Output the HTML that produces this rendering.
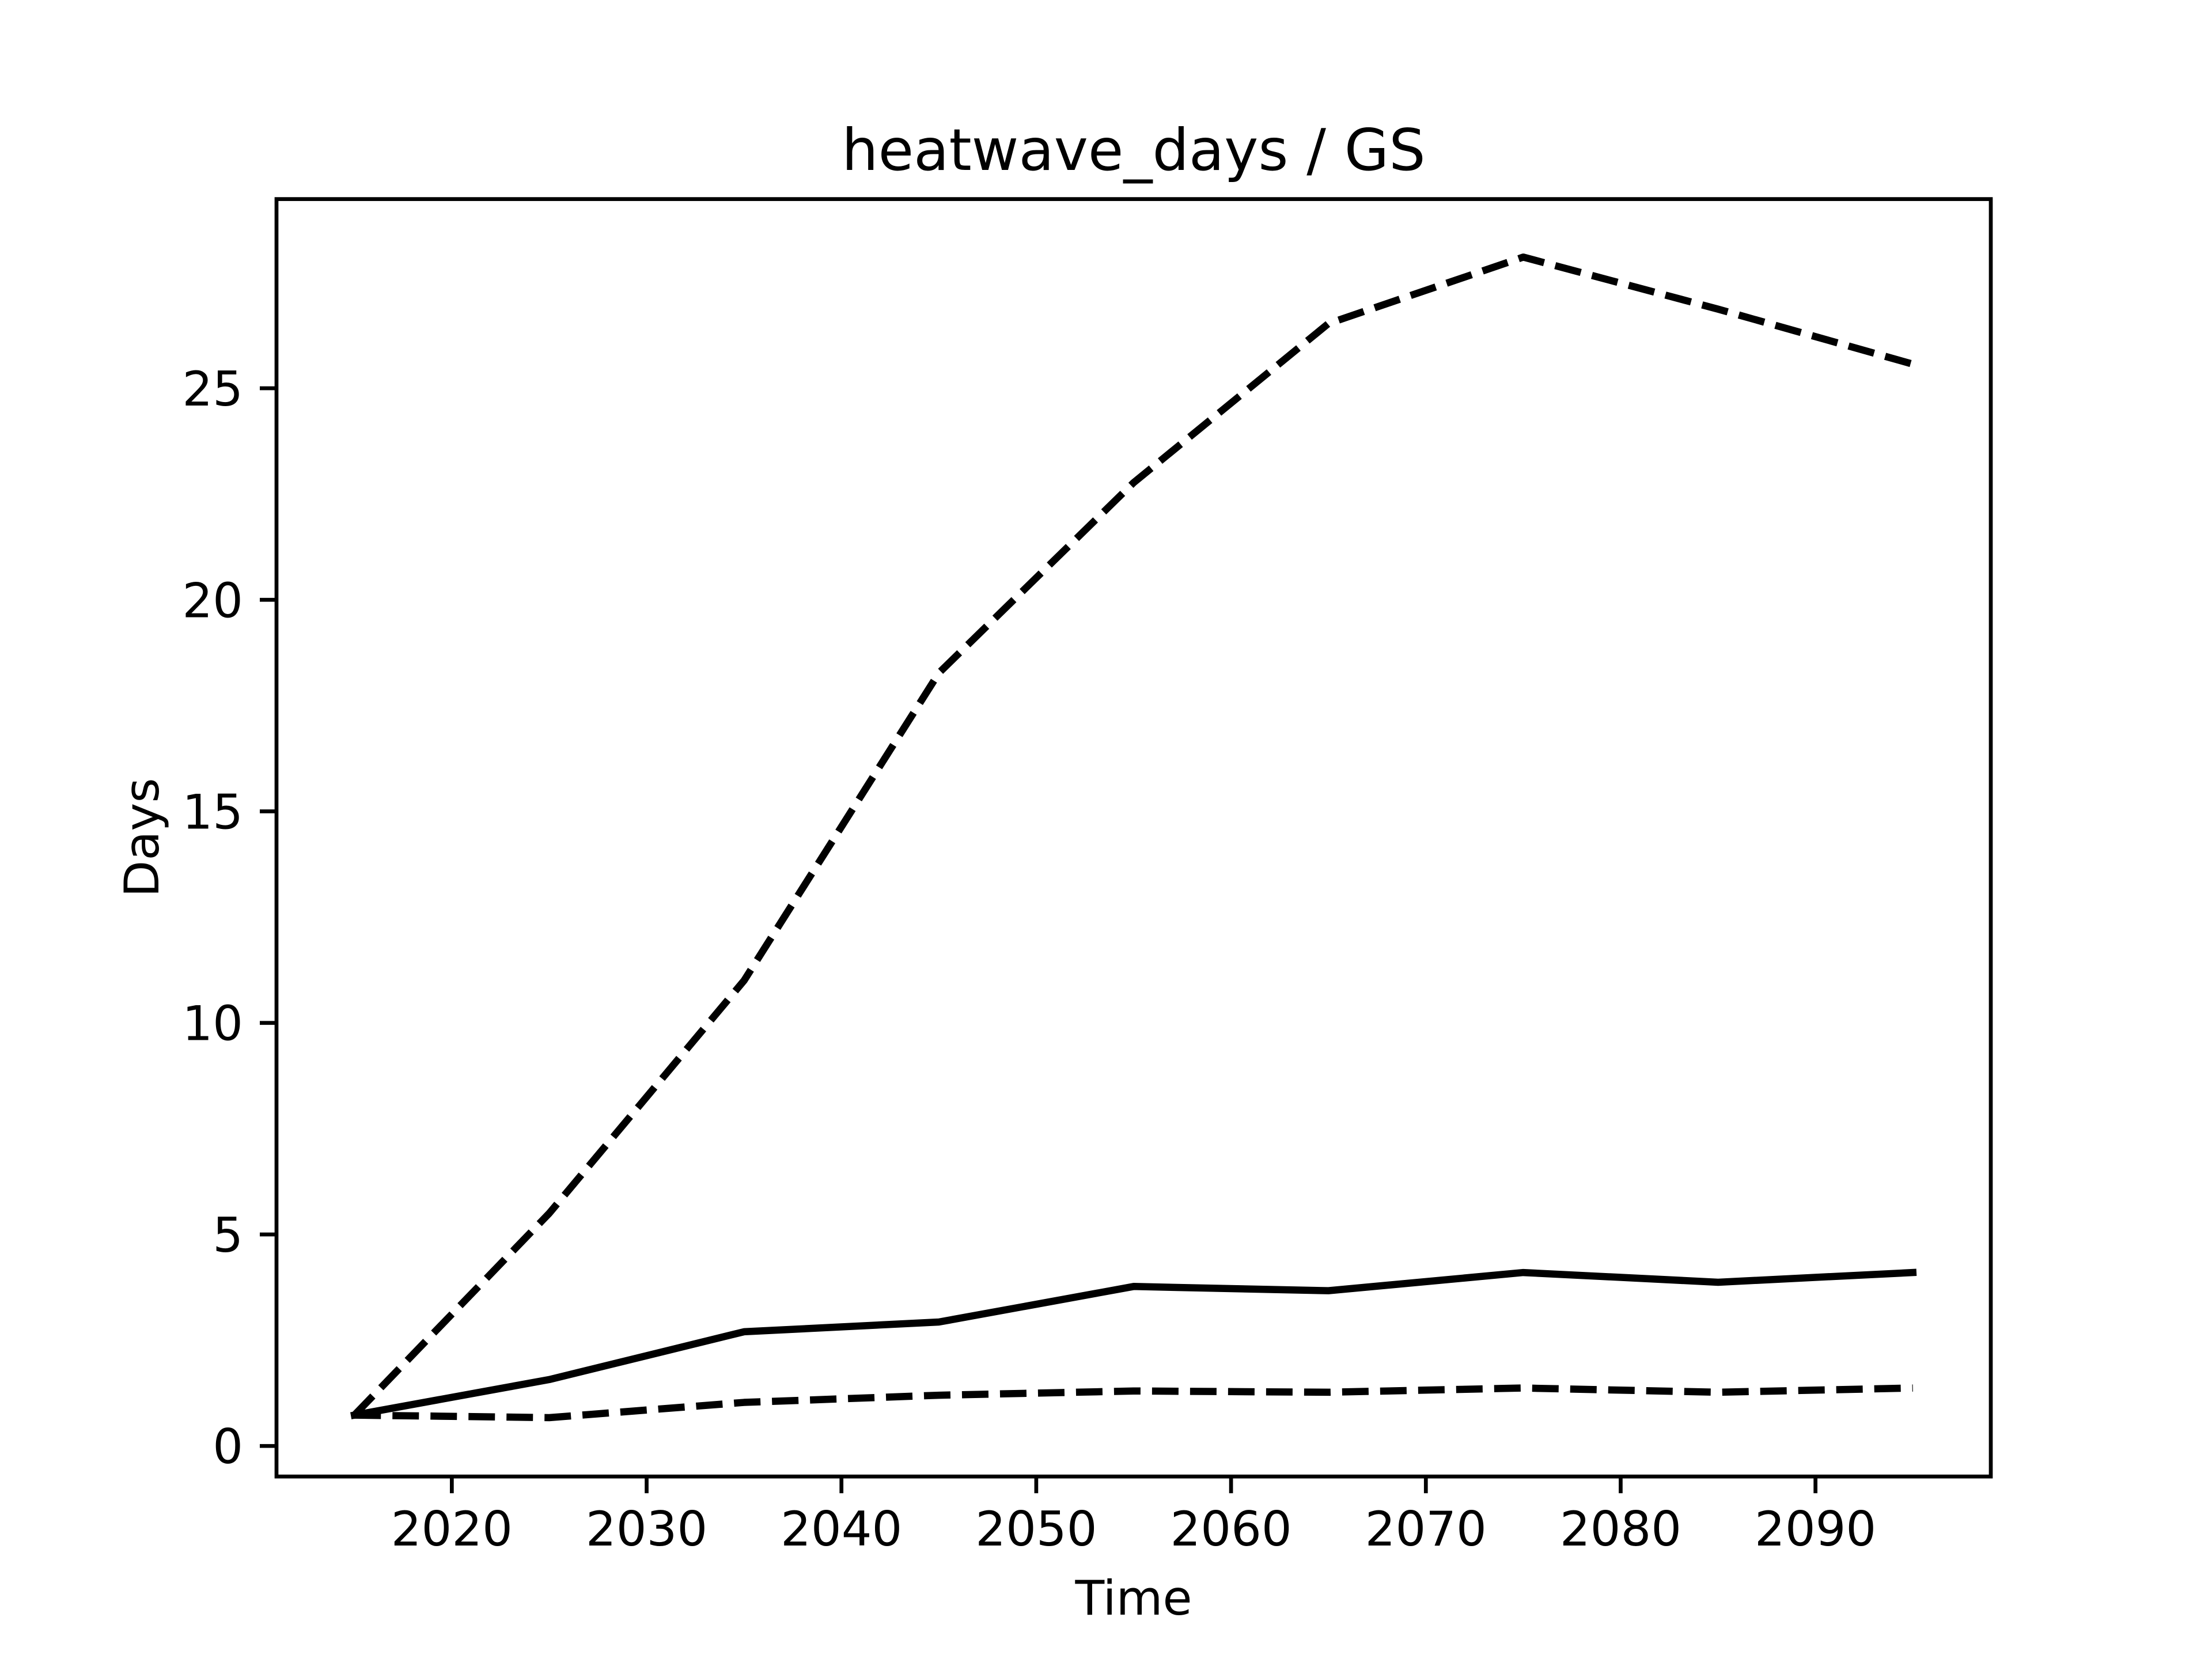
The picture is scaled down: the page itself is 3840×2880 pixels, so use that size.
<!DOCTYPE html>
<html><head><meta charset="utf-8"><style>
html,body{margin:0;padding:0;background:#fff}
svg{display:block}
text{font-family:"DejaVu Sans","Liberation Sans",sans-serif;fill:#000}
</style></head><body>
<svg id="chart" width="3840" height="2880" viewBox="0 0 3840 2880" xmlns="http://www.w3.org/2000/svg">
<rect width="3840" height="2880" fill="#fff"/>
<text x="1968" y="295" font-size="100" text-anchor="middle">heatwave_days / GS</text>
<text x="1968" y="2803" font-size="83" text-anchor="middle">Time</text>
<text x="0" y="0" font-size="83" text-anchor="middle" transform="translate(275,1454) rotate(-90)">Days</text>
<g id="plot"></g>
</svg>
<script>
const years = [2015,2025,2035,2045,2055,2065,2075,2085,2095];
const upperDays = [0.73,5.5,11.0,18.27,22.77,26.53,28.1,26.87,25.57];
const meanDays = [0.73,1.57,2.7,2.93,3.77,3.67,4.1,3.87,4.1];
const lowerDays = [0.73,0.67,1.03,1.2,1.3,1.27,1.37,1.27,1.37];
const xTicks = [2020,2030,2040,2050,2060,2070,2080,2090];
const yTicks = [0,5,10,15,20,25];

const L=480,R=3456,T=345.6,B=2563.2;
const xMin=2011,xMax=2099,yMin=-0.7215,yMax=29.4715;
const X=v=>L+(v-xMin)/(xMax-xMin)*(R-L);
const Y=v=>B-(v-yMin)/(yMax-yMin)*(B-T);
const NS='http://www.w3.org/2000/svg';
const g=document.getElementById('plot');
function mk(tag,attrs){const e=document.createElementNS(NS,tag);for(const k in attrs)e.setAttribute(k,attrs[k]);g.appendChild(e);return e;}

function series(vals,dash,name){
  const p=mk('polyline',{points:years.map((y,i)=>X(y)+','+Y(vals[i])).join(' '),fill:'none',stroke:'#000','stroke-width':12.5,'stroke-linejoin':'round','stroke-linecap':dash?'butt':'square'});
  if(dash)p.setAttribute('stroke-dasharray','46 20');
  
  
}
series(upperDays,true,'upper-dashed-line');
series(lowerDays,true,'lower-dashed-line');
series(meanDays,false,'mean-solid-line');

xTicks.forEach(t=>{
  const l=mk('line',{x1:X(t),x2:X(t),y1:B,y2:B+29,stroke:'#000','stroke-width':6.7});
  
  
  const tx=mk('text',{x:X(t),y:B+29+29+62,'font-size':83,'text-anchor':'middle'});
  tx.textContent=t;
  
  
});
yTicks.forEach(t=>{
  const l=mk('line',{x1:L-29,x2:L,y1:Y(t),y2:Y(t),stroke:'#000','stroke-width':6.7});
  
  
  const tx=mk('text',{x:L-29-29,y:Y(t)+30,'font-size':83,'text-anchor':'end'});
  tx.textContent=t;
  
  
});
const fr=mk('rect',{x:L,y:T,width:R-L,height:B-T,fill:'none',stroke:'#000','stroke-width':6.7});


</script>
</body></html>
